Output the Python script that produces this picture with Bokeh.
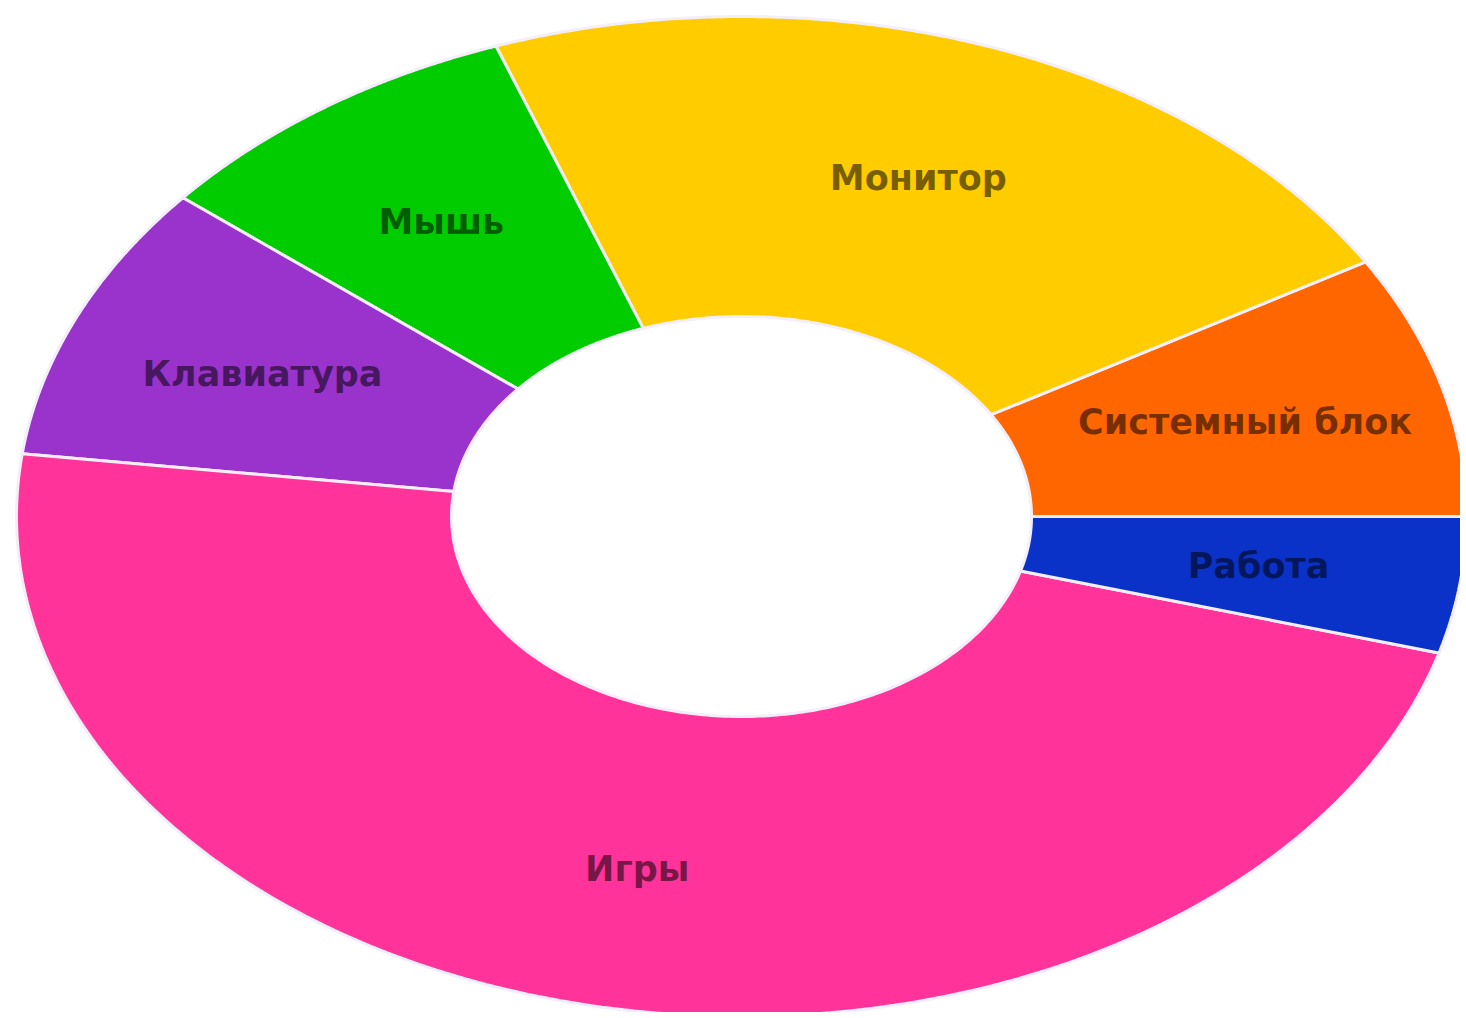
import numpy as np
from bokeh.plotting import figure
from bokeh.models import ColumnDataSource, Range1d
from bokeh.core.properties import value
from bokeh.embed import file_html
from bokeh.resources import INLINE

# Data (counter-clockwise from 3 o'clock)
categories = ["Системный блок", "Монитор", "Мышь", "Клавиатура", "Игры", "Работа"]
shares = [8.5, 22.0, 8.5, 9.0, 47.6, 4.4]
colors = ["#FF6600", "#FFCC00", "#00CC00", "#9933CC", "#FF3399", "#0A32C8"]

# Geometry (page pixel coordinates; y axis points down)
cx, cy = 741.0, 516.0
a_out, b_out = 725.0, 500.0
inner_frac = 0.40
label_frac = 0.72

vals = np.array(shares, dtype=float)
fr = vals / vals.sum()
ends = np.cumsum(fr) * 2 * np.pi
starts = ends - fr * 2 * np.pi

xs, ys, lx, ly = [], [], [], []
for s, e in zip(starts, ends):
    t = np.linspace(s, e, 200)
    ox = cx + a_out * np.cos(t)
    oy = cy - b_out * np.sin(t)
    ix = cx + a_out * inner_frac * np.cos(t[::-1])
    iy = cy - b_out * inner_frac * np.sin(t[::-1])
    xs.append(list(np.concatenate([ox, ix])))
    ys.append(list(np.concatenate([oy, iy])))
    m = (s + e) / 2
    lx.append(cx + a_out * label_frac * np.cos(m))
    ly.append(cy - b_out * label_frac * np.sin(m))

src = ColumnDataSource(dict(xs=xs, ys=ys, color=colors, name=categories))
lsrc = ColumnDataSource(dict(x=lx, y=ly, name=categories))

W, H = 1460, 1012
p = figure(width=W, height=H, output_backend="svg", toolbar_location=None,
           x_range=Range1d(0, W), y_range=Range1d(H, 0),
           min_border=0, background_fill_color="white")
p.axis.visible = False
p.grid.visible = False
p.outline_line_color = None

p.patches("xs", "ys", source=src, fill_color="color", line_color="#F4EEFA",
          line_width=3)
p.text("x", "y", text="name", source=lsrc, text_align="center",
       text_baseline="middle", text_font=value("DejaVu Sans"),
       text_font_style="bold",
       text_font_size="35px", text_color="black", text_alpha=0.55)

open("out.html", "w").write(file_html(p, INLINE))
